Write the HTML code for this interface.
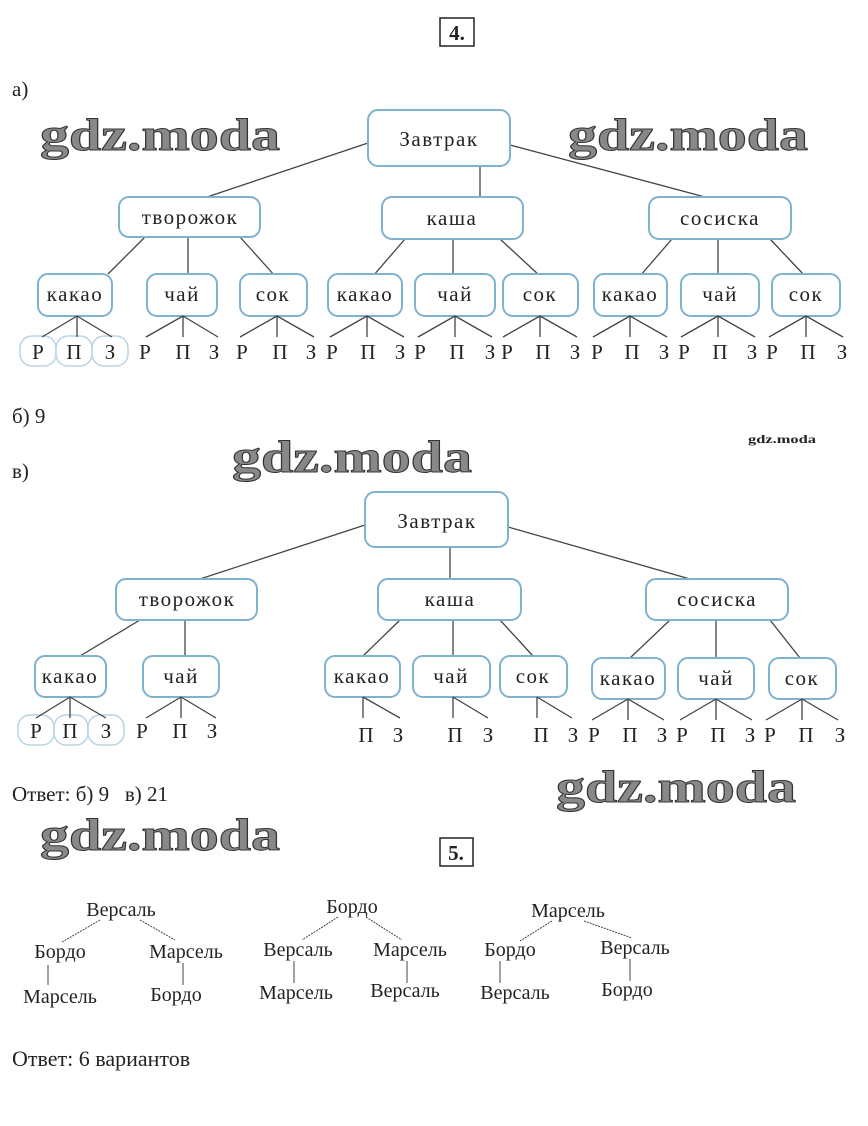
<!DOCTYPE html>
<html><head><meta charset="utf-8"><style>
html,body{margin:0;padding:0;background:#fff;}
svg{display:block;}
text{font-family:"Liberation Serif","DejaVu Serif",serif;fill:#222;}
.b{fill:#fff;stroke:#7fb2cf;stroke-width:2;}
.l{stroke:#444;stroke-width:1.3;fill:none;}
.n{font-size:21px;text-anchor:middle;letter-spacing:1.5px;}
.lf{font-size:21px;text-anchor:middle;}
.wm{font-family:"Liberation Serif",serif;font-weight:bold;fill:#888;stroke:#333;stroke-width:1;}
.t{font-size:21px;}
.c{fill:#fff;stroke:#b8d4e4;stroke-width:1.5;}
</style></head><body>
<svg width="868" height="1126" viewBox="0 0 868 1126" xmlns="http://www.w3.org/2000/svg">
<!-- watermarks -->
<text class="wm" x="40" y="150" font-size="46" textLength="240" lengthAdjust="spacingAndGlyphs">gdz.moda</text>
<text class="wm" x="568" y="150" font-size="46" textLength="240" lengthAdjust="spacingAndGlyphs">gdz.moda</text>
<text class="wm" x="232" y="472" font-size="46" textLength="240" lengthAdjust="spacingAndGlyphs">gdz.moda</text>
<text class="wm" x="556" y="802" font-size="46" textLength="240" lengthAdjust="spacingAndGlyphs">gdz.moda</text>
<text class="wm" x="40" y="850" font-size="46" textLength="240" lengthAdjust="spacingAndGlyphs">gdz.moda</text>
<text x="748" y="443" font-size="12" font-weight="bold" fill="#666" textLength="68" lengthAdjust="spacingAndGlyphs">gdz.moda</text>

<rect x="440" y="18" width="34" height="28" fill="none" stroke="#222" stroke-width="1.5"/>
<text x="457" y="40" font-size="21" font-weight="bold" text-anchor="middle">4.</text>
<text class="t" x="12" y="96">а)</text>

<!-- Part a -->
<g class="l">
<line x1="368" y1="143" x2="207" y2="197"/><line x1="480" y1="166" x2="480" y2="197"/><line x1="510" y1="145" x2="705" y2="197"/>
<line x1="145" y1="237" x2="108" y2="274"/><line x1="188" y1="237" x2="188" y2="274"/><line x1="240" y1="237" x2="275" y2="276"/>
<line x1="405" y1="239" x2="373" y2="276"/><line x1="453" y1="239" x2="453" y2="276"/><line x1="500" y1="239" x2="540" y2="276"/>
<line x1="672" y1="239" x2="640" y2="276"/><line x1="718" y1="239" x2="718" y2="276"/><line x1="770" y1="239" x2="805" y2="276"/>
</g>
<rect class="b" x="368" y="110" width="142" height="56" rx="10"/><text class="n" x="439" y="146" font-size="22">Завтрак</text>
<rect class="b" x="119" y="197" width="141" height="40" rx="10"/><text class="n" x="190" y="224">творожок</text>
<rect class="b" x="382" y="197" width="141" height="42" rx="10"/><text class="n" x="452" y="225">каша</text>
<rect class="b" x="649" y="197" width="142" height="42" rx="10"/><text class="n" x="720" y="225">сосиска</text>

<rect class="b" x="38" y="274" width="74" height="42" rx="10"/><text class="n" x="75" y="301">какао</text>
<rect class="b" x="147" y="274" width="70" height="42" rx="10"/><text class="n" x="182" y="301">чай</text>
<rect class="b" x="240" y="274" width="67" height="42" rx="10"/><text class="n" x="273" y="301">сок</text>
<rect class="b" x="328" y="274" width="74" height="42" rx="10"/><text class="n" x="365" y="301">какао</text>
<rect class="b" x="415" y="274" width="80" height="42" rx="10"/><text class="n" x="455" y="301">чай</text>
<rect class="b" x="503" y="274" width="75" height="42" rx="10"/><text class="n" x="540" y="301">сок</text>
<rect class="b" x="594" y="274" width="73" height="42" rx="10"/><text class="n" x="630" y="301">какао</text>
<rect class="b" x="681" y="274" width="78" height="42" rx="10"/><text class="n" x="720" y="301">чай</text>
<rect class="b" x="772" y="274" width="68" height="42" rx="10"/><text class="n" x="806" y="301">сок</text>
<rect class="c" x="20" y="336" width="36" height="30" rx="12"/><rect class="c" x="56" y="336" width="36" height="30" rx="12"/><rect class="c" x="92" y="336" width="36" height="30" rx="12"/>
<g class="l">
<path d="M77 316 L42 337 M77 316 L77 337 M77 316 L112 337"/>
<path d="M183 316 L146 337 M183 316 L183 337 M183 316 L218 337"/>
<path d="M277 316 L240 337 M277 316 L277 337 M277 316 L314 337"/>
<path d="M367 316 L330 337 M367 316 L367 337 M367 316 L404 337"/>
<path d="M455 316 L418 337 M455 316 L455 337 M455 316 L492 337"/>
<path d="M540 316 L503 337 M540 316 L540 337 M540 316 L577 337"/>
<path d="M630 316 L593 337 M630 316 L630 337 M630 316 L667 337"/>
<path d="M718 316 L681 337 M718 316 L718 337 M718 316 L755 337"/>
<path d="M806 316 L769 337 M806 316 L806 337 M806 316 L843 337"/>
</g>
<g class="lf">
<text x="38" y="359">Р</text><text x="74" y="359">П</text><text x="110" y="359">З</text>
<text x="145" y="359">Р</text><text x="183" y="359">П</text><text x="214" y="359">З</text>
<text x="242" y="359">Р</text><text x="280" y="359">П</text><text x="311" y="359">З</text>
<text x="332" y="359">Р</text><text x="368" y="359">П</text><text x="400" y="359">З</text>
<text x="420" y="359">Р</text><text x="457" y="359">П</text><text x="490" y="359">З</text>
<text x="507" y="359">Р</text><text x="543" y="359">П</text><text x="575" y="359">З</text>
<text x="597" y="359">Р</text><text x="632" y="359">П</text><text x="664" y="359">З</text>
<text x="684" y="359">Р</text><text x="720" y="359">П</text><text x="752" y="359">З</text>
<text x="772" y="359">Р</text><text x="808" y="359">П</text><text x="842" y="359">З</text>
</g>

<text class="t" x="12" y="423">б) 9</text>
<text class="t" x="12" y="478">в)</text>

<!-- Part c -->
<g class="l">
<line x1="365" y1="525" x2="200" y2="579"/><line x1="450" y1="547" x2="450" y2="579"/><line x1="508" y1="527" x2="690" y2="579"/>
<line x1="140" y1="620" x2="80" y2="656"/><line x1="185" y1="620" x2="185" y2="656"/>
<line x1="400" y1="620" x2="363" y2="656"/><line x1="453" y1="620" x2="453" y2="656"/><line x1="500" y1="620" x2="533" y2="656"/>
<line x1="670" y1="620" x2="630" y2="658"/><line x1="716" y1="620" x2="716" y2="658"/><line x1="770" y1="620" x2="800" y2="658"/>
</g>
<rect class="b" x="365" y="492" width="143" height="55" rx="10"/><text class="n" x="437" y="528" font-size="22">Завтрак</text>
<rect class="b" x="116" y="579" width="141" height="41" rx="10"/><text class="n" x="187" y="606">творожок</text>
<rect class="b" x="378" y="579" width="143" height="41" rx="10"/><text class="n" x="450" y="606">каша</text>
<rect class="b" x="646" y="579" width="142" height="41" rx="10"/><text class="n" x="717" y="606">сосиска</text>
<rect class="b" x="35" y="656" width="71" height="41" rx="10"/><text class="n" x="70" y="683">какао</text>
<rect class="b" x="143" y="656" width="76" height="41" rx="10"/><text class="n" x="181" y="683">чай</text>
<rect class="b" x="325" y="656" width="75" height="41" rx="10"/><text class="n" x="362" y="683">какао</text>
<rect class="b" x="413" y="656" width="77" height="41" rx="10"/><text class="n" x="451" y="683">чай</text>
<rect class="b" x="500" y="656" width="67" height="41" rx="10"/><text class="n" x="533" y="683">сок</text>
<rect class="b" x="592" y="658" width="73" height="41" rx="10"/><text class="n" x="628" y="685">какао</text>
<rect class="b" x="678" y="658" width="76" height="41" rx="10"/><text class="n" x="716" y="685">чай</text>
<rect class="b" x="769" y="658" width="67" height="41" rx="10"/><text class="n" x="802" y="685">сок</text>
<rect class="c" x="18" y="715" width="36" height="30" rx="12"/><rect class="c" x="54" y="715" width="34" height="30" rx="12"/><rect class="c" x="88" y="715" width="36" height="30" rx="12"/>
<g class="l">
<path d="M70 697 L36 718 M70 697 L70 718 M70 697 L106 718"/>
<path d="M181 697 L146 718 M181 697 L181 718 M181 697 L216 718"/>
<path d="M363 697 L363 718 M363 697 L400 718"/>
<path d="M453 697 L453 718 M453 697 L488 718"/>
<path d="M537 697 L537 718 M537 697 L572 718"/>
<path d="M628 699 L592 720 M628 699 L628 720 M628 699 L664 720"/>
<path d="M716 699 L680 720 M716 699 L716 720 M716 699 L752 720"/>
<path d="M802 699 L766 720 M802 699 L802 720 M802 699 L838 720"/>
</g>
<g class="lf">
<text x="36" y="738">Р</text><text x="70" y="738">П</text><text x="106" y="738">З</text>
<text x="142" y="738">Р</text><text x="180" y="738">П</text><text x="212" y="738">З</text>
<text x="366" y="742">П</text><text x="398" y="742">З</text>
<text x="455" y="742">П</text><text x="488" y="742">З</text>
<text x="541" y="742">П</text><text x="573" y="742">З</text>
<text x="594" y="742">Р</text><text x="630" y="742">П</text><text x="662" y="742">З</text>
<text x="682" y="742">Р</text><text x="718" y="742">П</text><text x="750" y="742">З</text>
<text x="770" y="742">Р</text><text x="806" y="742">П</text><text x="840" y="742">З</text>
</g>

<text class="t" x="12" y="801">Ответ: б) 9 &#160;&#160;в) 21</text>

<rect x="440" y="838" width="33" height="28" fill="none" stroke="#222" stroke-width="1.5"/>
<text x="456" y="860" font-size="21" font-weight="bold" text-anchor="middle">5.</text>

<!-- Part 5 -->
<g font-size="20" text-anchor="middle">
<text x="121" y="916">Версаль</text><text x="60" y="958">Бордо</text><text x="186" y="958">Марсель</text>
<text x="60" y="1003">Марсель</text><text x="176" y="1001">Бордо</text>
<text x="352" y="913">Бордо</text><text x="298" y="956">Версаль</text><text x="410" y="956">Марсель</text>
<text x="296" y="999">Марсель</text><text x="405" y="997">Версаль</text>
<text x="568" y="917">Марсель</text><text x="510" y="956">Бордо</text><text x="635" y="954">Версаль</text>
<text x="515" y="999">Версаль</text><text x="627" y="996">Бордо</text>
</g>
<g stroke="#444" stroke-width="1" stroke-dasharray="2,1">
<line x1="100" y1="920" x2="62" y2="942"/><line x1="140" y1="920" x2="175" y2="940"/>
<line x1="338" y1="917" x2="302" y2="940"/><line x1="366" y1="917" x2="402" y2="940"/>
<line x1="552" y1="921" x2="520" y2="941"/><line x1="584" y1="921" x2="632" y2="938"/>
</g>
<g stroke="#444" stroke-width="1">
<line x1="48" y1="965" x2="48" y2="985"/><line x1="183" y1="963" x2="183" y2="985"/>
<line x1="294" y1="961" x2="294" y2="983"/><line x1="407" y1="961" x2="407" y2="983"/>
<line x1="500" y1="961" x2="500" y2="983"/><line x1="630" y1="959" x2="630" y2="981"/>
</g>
<text x="12" y="1066" font-size="22">Ответ: 6 вариантов</text>
</svg>
</body></html>
